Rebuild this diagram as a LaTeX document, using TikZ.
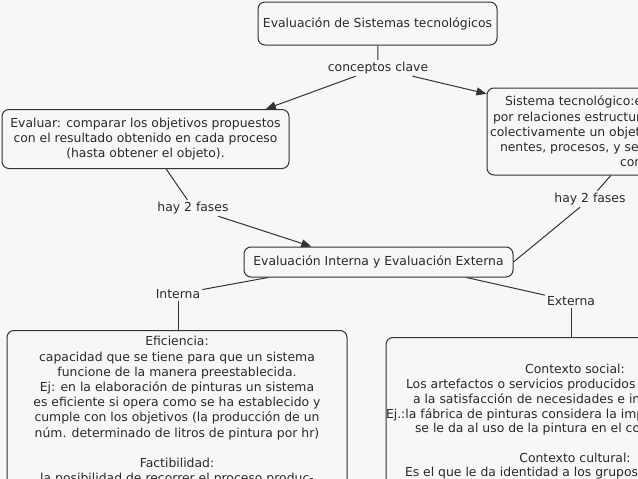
\documentclass[tikz,border=0pt]{standalone}
\usepackage{fontspec}
\setmainfont{DejaVu Sans}
\usetikzlibrary{arrows.meta}

\definecolor{bgcol}{HTML}{F7F7F7}
\definecolor{linecol}{HTML}{333333}
\definecolor{textcol}{HTML}{2A2A2A}
\newcommand{\mapfont}{\fontsize{12.4}{15.2}\selectfont}
% line of a box that runs out of the picture
\newcommand{\cutline}[2]{\makebox[#1pt][l]{#2}}

\begin{document}
\begin{tikzpicture}[x=1pt, y=-1pt,
  concept/.style={draw=linecol, line width=1pt, rounded corners=7pt, fill=bgcol,
    text=textcol, font=\mapfont, align=center, inner sep=0pt},
  linkword/.style={text=textcol, font=\mapfont, inner sep=2pt},
  link/.style={draw=linecol, line width=1pt},
  linkarrow/.style={link, -{Triangle[length=10pt, width=8pt]}}]

  \useasboundingbox (0,0) rectangle (638,479);
  \clip (0,0) rectangle (638,479);
  \fill[bgcol] (0,0) rectangle (638,479);

  % concepts
  \node[concept, minimum width=239pt, minimum height=43pt] (ttop) at (377.5,23.5) {Evaluación de Sistemas tecnológicos};
  \node[concept, minimum width=287pt, minimum height=59pt] (eval) at (145.5,139)
    {Evaluar: comparar los objetivos propuestos\\ con el resultado obtenido en cada proceso\\ (hasta obtener el objeto).};
  \node[concept, minimum width=326pt, minimum height=87pt] (sist) at (650,131.5)
    {\cutline{290}{Sistema tecnológico:es un conjunto formado}\\
     \cutline{314}{por relaciones estructurales}\\
     \cutline{320}{colectivamente un objeto}\\
     \cutline{300}{nentes, procesos, y servicios}\\
     \cutline{60}{contexto}};
  \node[concept, minimum width=269pt, minimum height=30pt] (fases) at (378.5,262) {Evaluación Interna y Evaluación Externa};
  \node[concept, anchor=north, minimum width=340pt, inner ysep=6pt] (efic) at (177,330)
    {Eficiencia:\\
     capacidad que se tiene para que un sistema\\
     funcione de la manera preestablecida.\\
     Ej: en la elaboración de pinturas un sistema\\
     es eficiente si opera como se ha establecido y\\
     cumple con los objetivos (la producción de un\\
     núm. determinado de litros de pintura por hr)\\
     \mbox{}\\
     Factibilidad:\\
     la posibilidad de recorrer el proceso produc-\\
     \mbox{}};
  \node[concept, anchor=north, minimum width=376pt, inner ysep=27pt,
    font=\fontsize{12.4}{14.7}\selectfont] (ctx) at (575,337)
    {Contexto social:\\
     \cutline{338}{Los artefactos o servicios producidos responden}\\
     \cutline{324}{a la satisfacción de necesidades e intereses}\\
     \cutline{378}{Ej.:la fábrica de pinturas considera la importancia}\\
     \cutline{320}{se le da al uso de la pintura en el contexto}\\
     \mbox{}\\
     Contexto cultural:\\
     \cutline{340}{Es el que le da identidad a los grupos sociales}};

  % linking words
  \node[linkword] (lkey) at (378,68) {conceptos clave};
  \node[linkword] (lfasesA) at (193,208) {hay 2 fases};
  \node[linkword] (lfasesB) at (590,199) {hay 2 fases};
  \node[linkword] (lint) at (178,294) {Interna};
  \node[linkword] (lext) at (571,301) {Externa};

  % connectors
  \draw[link] (ttop) -- (lkey);
  \draw[linkarrow] (lkey) -- (eval.14);
  \draw[linkarrow] (lkey) -- (sist.167);
  \draw[link] (eval) -- (lfasesA);
  \draw[linkarrow] (lfasesA) -- (fases.167);
  \draw[link] (sist) -- (lfasesB);
  \draw[link] (lfasesB) -- (fases.east);
  \draw[link] (fases.188) -- (lint);
  \draw[link] (lint) -- (lint |- efic.north);
  \draw[link] (fases.350) -- (lext);
  \draw[link] (lext) -- (lext |- ctx.north);

\end{tikzpicture}
\end{document}
